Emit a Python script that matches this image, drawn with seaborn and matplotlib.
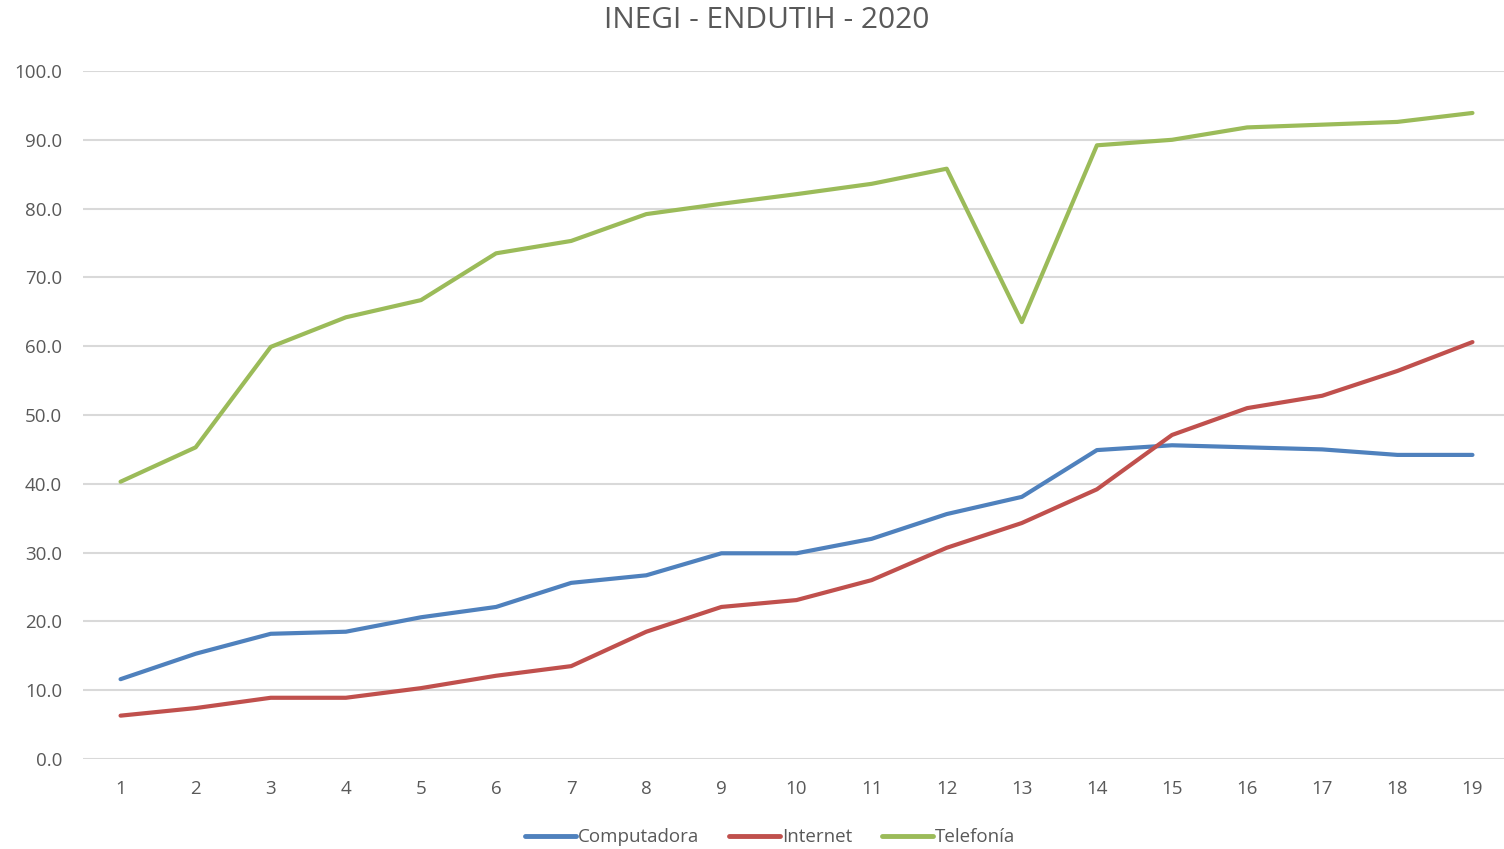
import pandas as pd
import numpy as np
import matplotlib
matplotlib.use("Agg")
import matplotlib.pyplot as plt
import seaborn as sns

# ------------------------------------------------------------------ #
#  Data
# ------------------------------------------------------------------ #
periodos = list(range(1, 20))
computadora = [11.6, 15.3, 18.2, 18.5, 20.6, 22.1, 25.6, 26.7, 29.9, 29.9,
               32.0, 35.6, 38.1, 44.9, 45.6, 45.3, 45.0, 44.2, 44.2]
internet = [6.3, 7.4, 8.9, 8.9, 10.3, 12.1, 13.5, 18.5, 22.1, 23.1,
            26.0, 30.7, 34.3, 39.2, 47.1, 51.0, 52.8, 56.4, 60.6]
telefonia = [40.3, 45.3, 59.9, 64.2, 66.7, 73.5, 75.3, 79.2, 80.7, 82.1,
             83.6, 85.8, 63.5, 89.2, 90.0, 91.8, 92.2, 92.6, 93.9]
series = ['Computadora', 'Internet', 'Telefonía']
colores = ['#4F81BD', '#C0504D', '#9BBB59']
y_ticks = np.arange(0, 101, 10)

df = pd.DataFrame({
    'periodo': periodos * 3,
    'valor': computadora + internet + telefonia,
    'serie': [s for s in series for _ in periodos],
})

# ------------------------------------------------------------------ #
#  Plot
# ------------------------------------------------------------------ #
sns.set_style('white')
plt.rcParams['font.family'] = ['Open Sans', 'DejaVu Sans']
text_color = '#595959'

fig = plt.figure(figsize=(15.04, 8.49), dpi=100)
ax = fig.add_axes([83 / 1504, 1 - 759 / 849, 1 - 83 / 1504, (759 - 71) / 849])

sns.lineplot(data=df, x='periodo', y='valor', hue='serie', hue_order=series,
             palette=colores, linewidth=3.0, ax=ax, legend=False)

ax.set_xlim(0.5, 19.42)
ax.set_ylim(0, 100)
ax.set_xticks(periodos)
ax.set_xticklabels([str(p) for p in periodos])
ax.set_yticks(y_ticks)
ax.set_yticklabels([f'{v:.1f}' for v in y_ticks])
ax.yaxis.grid(True, color='#D9D9D9', linewidth=1.5)
ax.set_axisbelow(True)
for s in ax.spines.values():
    s.set_visible(False)
ax.tick_params(axis='both', length=0, labelsize=13.5, colors=text_color)
ax.tick_params(axis='x', pad=15)
ax.tick_params(axis='y', pad=15)
ax.set_xlabel('')
ax.set_ylabel('')

fig.text(0.51, 1 - 20 / 849, 'INEGI - ENDUTIH - 2020', ha='center',
         va='center', fontsize=21.5, color=text_color)

handles = [plt.Line2D([], [], color=c, linewidth=3.5) for c in colores]
fig.legend(handles, series, loc='center', bbox_to_anchor=(0.512, 0.014),
           ncol=3, frameon=False, handlelength=2.7, handletextpad=0.1,
           columnspacing=1.6, fontsize=13.5, labelcolor=text_color)

fig.savefig('out.png', dpi=100)
